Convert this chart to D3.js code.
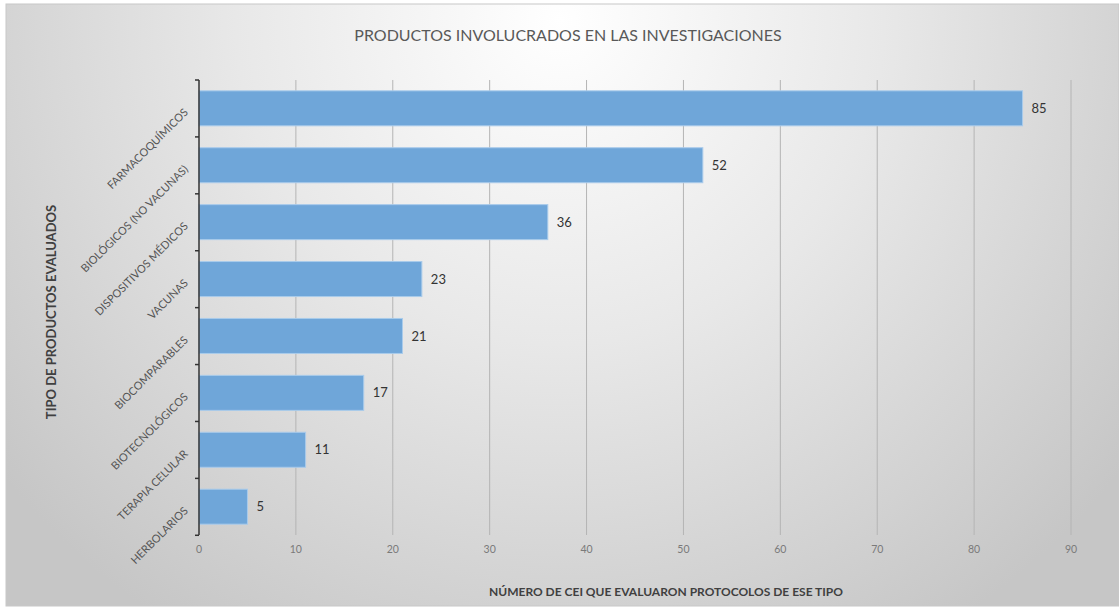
<!DOCTYPE html>
<html>
<head>
<meta charset="utf-8">
<script src="https://cdn.jsdelivr.net/npm/d3@7"></script>
<style>
  body { margin: 0; background: #fff; }
  svg { display: block; font-family: Lato, "Open Sans", sans-serif; }
</style>
</head>
<body>
<div id="graph"></div>
<script>
(function(){
	"use strict";

	// data
	var categories = ["FARMACOQUÍMICOS", "BIOLÓGICOS (NO VACUNAS)", "DISPOSITIVOS MÉDICOS", "VACUNAS",
		"BIOCOMPARABLES", "BIOTECNOLÓGICOS", "TERAPIA CELULAR", "HERBOLARIOS"];
	var values = [85, 52, 36, 23, 21, 17, 11, 5];
	var xTicks = [0, 10, 20, 30, 40, 50, 60, 70, 80, 90];

	var W = 1119, H = 607;
	var margin = {top: 80, left: 199};

	var svg = d3.select("#graph").append("svg")
		.attr("width", W)
		.attr("height", H);

	// radial background like the office chart
	var defs = svg.append("defs");
	var grad = defs.append("radialGradient")
		.attr("id", "bg")
		.attr("gradientUnits", "userSpaceOnUse")
		.attr("cx", 560).attr("cy", 20).attr("r", 720);
	grad.append("stop").attr("offset", "0%").attr("stop-color", "#ffffff");
	grad.append("stop").attr("offset", "45%").attr("stop-color", "#e8e8e8");
	grad.append("stop").attr("offset", "100%").attr("stop-color", "#c6c6c6");

	svg.append("rect")
		.attr("x", 6).attr("y", 4)
		.attr("width", W - 6).attr("height", H - 5)
		.attr("fill", "url(#bg)")
		.attr("stroke", "#c8c8c8");

	var g = svg.append("g").attr("transform", "translate(" + margin.left + "," + margin.top + ")");

	var x = d3.scaleLinear().domain([0, 90]).range([0, 872]);
	var y = d3.scaleBand().domain(categories).range([0, 455]).paddingInner(0.385).paddingOuter(0.19);

	// vertical gridlines
	g.append("g")
		.selectAll("line")
		.data(xTicks.slice(1))
		.enter().append("line")
		.attr("x1", function(d) { return x(d); })
		.attr("x2", function(d) { return x(d); })
		.attr("y1", 0)
		.attr("y2", 455)
		.attr("stroke", "#b4b4b4")
		.attr("stroke-width", 1);

	// x tick labels
	g.append("g")
		.selectAll("text")
		.data(xTicks)
		.enter().append("text")
		.attr("x", function(d) { return x(d); })
		.attr("y", 473)
		.attr("text-anchor", "middle")
		.attr("font-size", "10.5px")
		.attr("fill", "#7a7a7a")
		.text(function(d) { return d; });

	// bars
	g.selectAll(".bar")
		.data(values)
		.enter().append("rect")
		.attr("class", "bar")
		.attr("x", 0)
		.attr("y", function(d, i) { return y(categories[i]); })
		.attr("width", function(d) { return x(d); })
		.attr("height", y.bandwidth())
		.attr("fill", "#6fa6d9")
		.attr("stroke", "#a9cbeb")
		.attr("stroke-width", 1);

	// value labels
	g.selectAll(".val")
		.data(values)
		.enter().append("text")
		.attr("class", "val")
		.attr("x", function(d) { return x(d) + 9; })
		.attr("y", function(d, i) { return y(categories[i]) + y.bandwidth() / 2; })
		.attr("dy", "0.35em")
		.attr("font-size", "13px")
		.attr("fill", "#333")
		.text(function(d) { return d; });

	// left axis with ticks between categories
	var yAxis = g.append("g");
	yAxis.append("line")
		.attr("x1", 0).attr("x2", 0).attr("y1", 0).attr("y2", 455)
		.attr("stroke", "#333").attr("stroke-width", 1.5);
	var step = y.step();
	var tickPos = d3.range(categories.length + 1).map(function(i) { return i * step + y(categories[0]) - y.paddingOuter() * step; });
	yAxis.selectAll(".tk")
		.data(tickPos)
		.enter().append("line")
		.attr("class", "tk")
		.attr("x1", -4).attr("x2", 0)
		.attr("y1", function(d) { return d; })
		.attr("y2", function(d) { return d; })
		.attr("stroke", "#333").attr("stroke-width", 1.5);

	// rotated category labels
	g.selectAll(".cat")
		.data(categories)
		.enter().append("text")
		.attr("class", "cat")
		.attr("transform", function(d) {
			return "translate(-13," + (y(d) + y.bandwidth() / 2 + 2) + ") rotate(-45)";
		})
		.attr("text-anchor", "end")
		.attr("dy", "0.35em")
		.attr("font-size", "11px")
		.attr("fill", "#555")
		.text(function(d) { return d; });

	// titles
	svg.append("text")
		.attr("x", 568).attr("y", 41)
		.attr("text-anchor", "middle")
		.attr("font-size", "16px")
		.attr("fill", "#595959")
		.text("PRODUCTOS INVOLUCRADOS EN LAS INVESTIGACIONES");

	svg.append("text")
		.attr("x", 666).attr("y", 596)
		.attr("text-anchor", "middle")
		.attr("font-size", "12px")
		.attr("font-weight", "bold")
		.attr("fill", "#404040")
		.text("NÚMERO DE CEI QUE EVALUARON PROTOCOLOS DE ESE TIPO");

	svg.append("text")
		.attr("transform", "translate(56,312) rotate(-90)")
		.attr("text-anchor", "middle")
		.attr("font-size", "13px")
		.attr("font-weight", "bold")
		.attr("fill", "#404040")
		.text("TIPO DE PRODUCTOS EVALUADOS");
})();
</script>
</body>
</html>
